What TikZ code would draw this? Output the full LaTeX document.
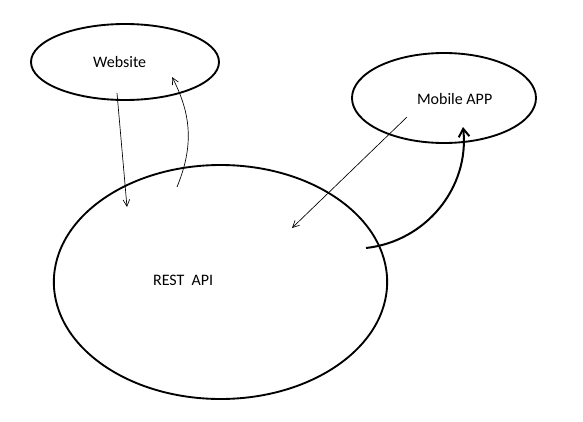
\documentclass[tikz,border=0pt]{standalone}
\usepackage{fontspec}
\setmainfont{Carlito}
\usetikzlibrary{shapes.geometric,arrows.meta}
\begin{document}
\begin{tikzpicture}[
    x=0.75pt, y=-0.75pt,
    every node/.style={font=\fontsize{12}{14}\selectfont},
    client/.style={ellipse, draw, line width=1.4pt, inner sep=0pt},
    arrow/.style={->, >={Straight Barb[length=5pt,width=5pt]}, line width=0.5pt},
    bigarrow/.style={->, >={Straight Barb[length=6pt,width=8pt]}, line width=1.5pt}
]
    \useasboundingbox (0,0) rectangle (583,422);

    % Clients and server
    \node [client, minimum width=141pt, minimum height=57pt, label={[xshift=-4pt]center:Website}] (web) at (125,62) {};
    \node [client, minimum width=138pt, minimum height=67.5pt, label={[xshift=8pt,yshift=-1pt]center:Mobile APP}] (mobile) at (444,98) {};
    \node [client, minimum width=250pt, minimum height=175.5pt, label={[xshift=-28pt,yshift=1pt]center:REST~ API}] (api) at (220.5,282) {};

    % Arrow ends
    \coordinate (w1) at (117,93);
    \coordinate (w2) at (172,77);
    \coordinate (a1) at (127,207);
    \coordinate (a2) at (177,187);
    \coordinate (a3) at (292,228);
    \coordinate (a4) at (366,248);
    \coordinate (m1) at (407,117);
    \coordinate (m2) at (463,127);

    % Requests and responses
    \draw [arrow] (w1) -- (a1);
    \draw [arrow] (a2) to [bend right=25] (w2);
    \draw [arrow] (m1) -- (a3);
    \draw [bigarrow] (a4) to [bend right=45] (m2);
\end{tikzpicture}
\end{document}
